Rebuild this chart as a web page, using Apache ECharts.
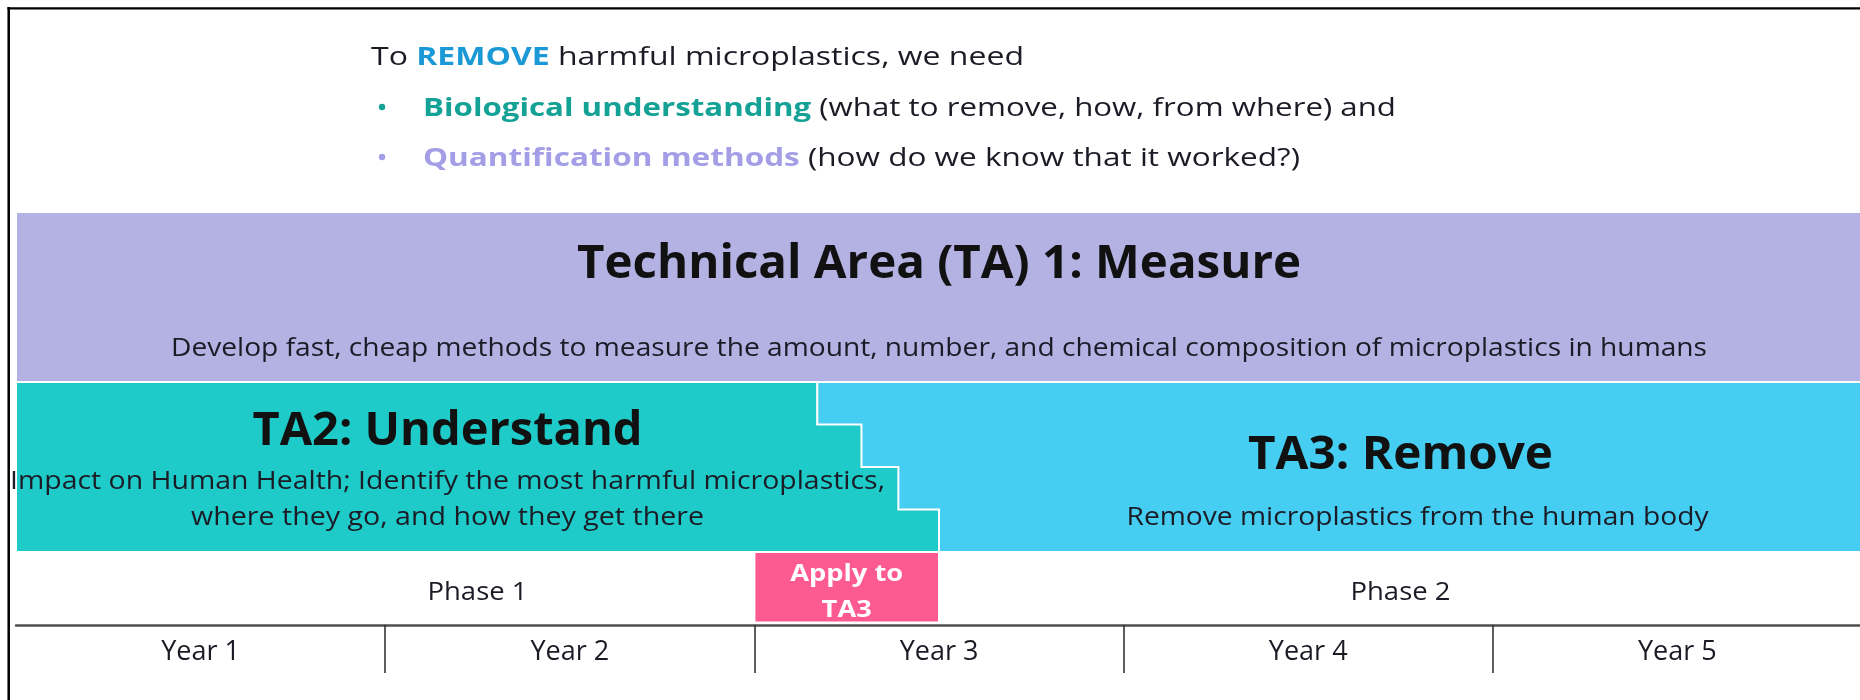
<!DOCTYPE html>
<html>
<head>
<meta charset="utf-8">
<title>Microplastics programme timeline</title>
<script src="https://cdn.jsdelivr.net/npm/echarts@6.0.0/dist/echarts.min.js"></script>
<style>
html,body{margin:0;padding:0;background:#ffffff;}
#chart{width:1860px;height:700px;}
</style>
</head>
<body>
<div id="chart"></div>
<script>
// ---------------- data ----------------
const yearLabels = ['Year 1', 'Year 2', 'Year 3', 'Year 4', 'Year 5'];
const phaseNames = ['Phase 1', 'Phase 2'];
const phaseStart = [0, 2.5];
const phaseEnd = [2.5, 5];
const areaTitles = ['Technical Area (TA) 1: Measure', 'TA2: Understand', 'TA3: Remove'];
const areaDescriptions = [
  ['Develop fast, cheap methods to measure the amount, number, and chemical composition of microplastics in humans'],
  ['Impact on Human Health; Identify the most harmful microplastics,', 'where they go, and how they get there'],
  ['Remove microplastics from the human body']
];
const areaStart = [0, 0, 2.17];
const areaEnd = [5, 2.5, 5];
const areaRow = [0, 1, 1];
const ta2StepEnds = [2.17, 2.29, 2.39, 2.5];
const applyText = ['Apply to', 'TA3'];
const applyStart = [2.0];
const applyEnd = [2.5];
const applyRow = [2];
const applyRows = [0.415];
const introLead = ['To ', 'REMOVE', ' harmful microplastics, we need'];
const bulletKeys = ['Biological understanding', 'Quantification methods'];
const bulletRest = [' (what to remove, how, from where) and', ' (how do we know that it worked?)'];

// ---------------- styles ----------------
const FONT = '"Open Sans", "Noto Sans", sans-serif';
const reg = s => s + 'px ' + FONT;
const bold = s => 'bold ' + s + 'px ' + FONT;
const INK = '#1b1b26';
const areaColors = ['#b4b1e3', '#1ecbc8', '#46cdf2'];
const keyColors = ['#14a196', '#a49ee6'];
const removeColor = '#1b98d6';
const pink = '#fd5a92';
const titleDy = [53, 50, 74];
const descDy = [[137], [100, 135.5], [136]];
const descDx = [0, 0, 17];
const titleW = [724, 390, 305];
const descW = [[1536], [875, 513], [582]];
const RS = 25; // regular text size

const mctx = document.createElement('canvas').getContext('2d');
function tw(str, font) { mctx.font = font; return mctx.measureText(str).width; }
function fit(parts, target) {
  let s = 0;
  parts.forEach(p => { s += tw(p[0], p[1]); });
  return target / s;
}
function textEl(x, y, str, font, fill, scale, align) {
  const a = align || 'center';
  return {
    type: 'text', x: x, y: y, scaleX: scale, silent: true,
    style: { text: str, x: 0, y: 0, font: font, fill: fill,
      align: a, verticalAlign: 'middle', textAlign: a, textVerticalAlign: 'middle' }
  };
}

// ---------------- render functions ----------------
function renderArea(params, api) {
  const i = api.value(0);
  const row = areaRow[i];
  const tl = api.coord([areaStart[i], row]);
  const br = api.coord([areaEnd[i], row + 1]);
  const children = [];
  let cxVal;
  if (i === 1) {
    const n = ta2StepEnds.length;
    const pts = [tl];
    for (let k = 0; k < n; k++) {
      pts.push(api.coord([ta2StepEnds[k], row + k / n]));
      pts.push(api.coord([ta2StepEnds[k], row + (k + 1) / n]));
    }
    pts.push([tl[0], br[1]]);
    children.push({ type: 'polygon', shape: { points: pts },
      style: { fill: areaColors[i], stroke: '#ffffff', lineWidth: 2 } });
    const mean = ta2StepEnds.reduce((a, b) => a + b, 0) / n;
    cxVal = (areaStart[i] + mean) / 2;
  } else {
    children.push({ type: 'rect',
      shape: { x: tl[0], y: tl[1], width: br[0] - tl[0], height: br[1] - tl[1] },
      style: { fill: areaColors[i], stroke: '#ffffff', lineWidth: 2 } });
    cxVal = i === 0 ? (areaStart[i] + areaEnd[i]) / 2
                    : (ta2StepEnds[ta2StepEnds.length - 1] + areaEnd[i]) / 2;
  }
  const cx = api.coord([cxVal, row])[0];
  const tf = bold(46);
  children.push(textEl(cx, tl[1] + titleDy[i], areaTitles[i], tf, '#111111',
    fit([[areaTitles[i], tf]], titleW[i])));
  const df = reg(RS);
  areaDescriptions[i].forEach((line, j) => {
    children.push(textEl(cx + descDx[i], tl[1] + descDy[i][j], line, df, INK,
      fit([[line, df]], descW[i][j])));
  });
  return { type: 'group', children: children };
}

function renderApply(params, api) {
  const i = api.value(0);
  const tl = api.coord([applyStart[i], applyRow[i]]);
  const br = api.coord([applyEnd[i], applyRow[i] + applyRows[i]]);
  const cx = (tl[0] + br[0]) / 2;
  const f = bold(24);
  const sc = fit([[applyText[0], f]], 113);
  return { type: 'group', children: [
    { type: 'rect', shape: { x: tl[0], y: tl[1], width: br[0] - tl[0], height: br[1] - tl[1] },
      style: { fill: pink, stroke: '#ffffff', lineWidth: 2 } },
    textEl(cx, tl[1] + 22, applyText[0], f, '#ffffff', sc),
    textEl(cx, tl[1] + 58, applyText[1], f, '#ffffff', sc)
  ] };
}

function renderPhase(params, api) {
  const i = api.value(0);
  const p = api.coord([(phaseStart[i] + phaseEnd[i]) / 2, 2]);
  const f = reg(RS);
  const sc = fit([[phaseNames[0], f]], 100);
  return textEl(p[0], p[1] + 41, phaseNames[i], f, INK, sc);
}

// ---------------- intro text (graphic) ----------------
const rf = reg(RS), bf = bold(RS);
const line1Scale = fit([[introLead[0], rf], [introLead[1], bf], [introLead[2], rf]], 653);
const bulletTargets = [973, 877];
const intro = [{
  type: 'text', x: 371, y: 58, scaleX: line1Scale, silent: true,
  style: {
    text: '{n|' + introLead[0] + '}{r|' + introLead[1] + '}{n|' + introLead[2] + '}',
    x: 0, y: 0, align: 'left', verticalAlign: 'middle', textAlign: 'left', textVerticalAlign: 'middle',
    font: rf, fill: INK,
    rich: { n: { font: rf, fill: INK }, r: { font: bf, fill: removeColor } }
  }
}];
const bulletY = [109, 159];
bulletKeys.forEach((k, j) => {
  intro.push({ type: 'circle', silent: true, shape: { cx: 382, cy: bulletY[j] - 2, r: 3.2 },
    style: { fill: keyColors[j] } });
  intro.push({
    type: 'text', x: 423, y: bulletY[j], silent: true,
    scaleX: fit([[k, bf], [bulletRest[j], rf]], bulletTargets[j]),
    style: {
      text: '{k|' + k + '}{n|' + bulletRest[j] + '}',
      x: 0, y: 0, align: 'left', verticalAlign: 'middle', textAlign: 'left', textVerticalAlign: 'middle',
      font: rf, fill: INK,
      rich: { n: { font: rf, fill: INK }, k: { font: bf, fill: keyColors[j] } }
    }
  });
});
// slide frame
intro.push({ type: 'line', silent: true, shape: { x1: 8.7, y1: 7, x2: 8.7, y2: 700 },
  style: { stroke: '#000000', lineWidth: 2.5 } });
intro.push({ type: 'line', silent: true, shape: { x1: 7.5, y1: 8.3, x2: 1860, y2: 8.3 },
  style: { stroke: '#000000', lineWidth: 2.2 } });

// ---------------- chart ----------------
const chart = echarts.init(document.getElementById('chart'), null, { renderer: 'canvas' });
chart.setOption({
  animation: false,
  backgroundColor: '#ffffff',
  grid: { left: 16, top: 212, width: 1846, height: 413, containLabel: false, outerBoundsMode: 'none' },
  xAxis: [
    { type: 'value', min: 0, max: 5, show: false },
    { type: 'category', data: yearLabels, position: 'bottom', boundaryGap: true,
      axisLine: { show: true, lineStyle: { color: '#4f4f4f', width: 2.5 } },
      axisTick: { show: true, length: 48, interval: function (idx) { return idx > 0; },
        lineStyle: { color: '#2a2a2a', width: 1.5 } },
      axisLabel: { fontFamily: FONT, fontSize: 27, color: INK, margin: 14 },
      splitLine: { show: false } }
  ],
  yAxis: { type: 'value', min: 0, max: 2.43, inverse: true, show: false },
  graphic: { elements: intro },
  series: [
    { type: 'custom', xAxisIndex: 0, yAxisIndex: 0, renderItem: renderArea,
      data: [[0], [2], [1]], silent: true },
    { type: 'custom', xAxisIndex: 0, yAxisIndex: 0, renderItem: renderApply,
      data: [[0]], silent: true },
    { type: 'custom', xAxisIndex: 0, yAxisIndex: 0, renderItem: renderPhase,
      data: [[0], [1]], silent: true }
  ]
});
</script>
</body>
</html>
